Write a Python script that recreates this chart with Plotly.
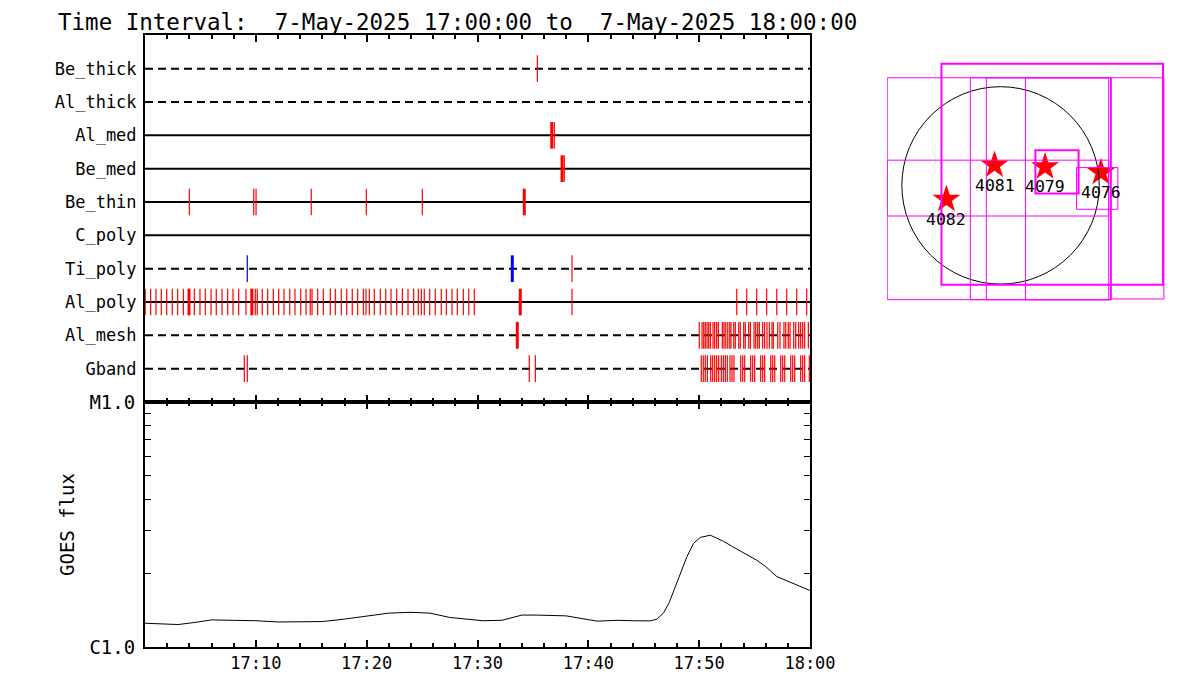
import plotly.graph_objects as go
from datetime import datetime, timedelta

# ---------------- DATA ----------------
T0 = datetime(2025, 5, 7, 17, 0, 0)
TITLE = "Time Interval:  7-May-2025 17:00:00 to  7-May-2025 18:00:00"

DETECTORS = ["Be_thick", "Al_thick", "Al_med", "Be_med", "Be_thin",
             "C_poly", "Ti_poly", "Al_poly", "Al_mesh", "Gband"]

# event times, minutes after 17:00
BE_THICK_EV = [35.40]
AL_THICK_EV = []
AL_MED_EV = [36.93]
AL_MED_EV_BIG = [36.70]
BE_MED_EV = [37.83]
BE_MED_EV_BIG = [37.63]
BE_THIN_EV = [4.00, 9.81, 10.02, 15.00, 19.97, 25.02]
BE_THIN_EV_BIG = [34.22]
C_POLY_EV = []
TI_POLY_EV = [38.53]
TI_POLY_EV_BLUE = [9.23]
TI_POLY_EV_BLUE_BIG = [33.14]
AL_POLY_EV = [0.02, 0.51, 0.99, 1.47, 1.96, 2.46, 2.95, 3.46, 4.45, 4.96, 5.44,
              5.96, 6.43, 6.95, 7.46, 7.94, 8.45, 9.11, 9.95, 10.13, 10.58,
              11.07, 11.58, 12.06, 12.54, 13.06, 13.53, 14.05, 14.53, 14.91,
              15.07, 15.58, 16.09, 16.72, 17.17, 17.71, 18.20, 18.70, 19.19,
              19.70, 19.94, 20.24, 20.69, 21.23, 21.72, 22.20, 22.71, 23.22,
              23.73, 24.24, 24.66, 24.93, 25.20, 25.69, 26.19, 26.73, 27.19,
              27.70, 28.18, 28.72, 29.21, 29.71, 38.53, 53.39, 54.29, 55.19,
              56.09, 57.00, 57.90, 58.80, 59.70]
AL_POLY_EV_BIG = [3.97, 9.64, 33.86]
AL_MESH_EV = [50.01, 50.26, 50.41, 50.55, 50.71, 50.86, 51.01, 51.25, 51.40,
              51.58, 51.73, 52.09, 52.24, 52.40, 52.58, 52.76, 52.87, 53.12,
              53.26, 53.57, 53.71, 54.02, 54.16, 54.47, 54.62, 54.95, 55.10,
              55.28, 55.43, 55.73, 55.91, 56.12, 56.33, 56.57, 56.69, 57.09,
              57.29, 57.65, 57.81, 58.04, 58.20, 58.53, 58.71, 58.98, 59.16,
              59.34, 59.52, 59.85]
AL_MESH_EV_BIG = [33.59]
GBAND_EV = [8.96, 9.23, 34.67, 35.22, 50.19, 50.37, 50.55, 50.74, 51.04, 51.22,
            51.40, 51.58, 51.76, 52.00, 52.18, 52.36, 52.54, 52.78, 52.96,
            53.14, 53.75, 53.93, 54.11, 54.65, 54.83, 55.01, 55.55, 55.73,
            55.91, 56.46, 56.64, 56.82, 57.36, 57.54, 57.72, 58.26, 58.44,
            58.62, 59.16, 59.34, 59.52, 59.94]

# GOES flux (W/m^2), minutes after 17:00
GOES_MIN = [0, 1.5, 3, 4.5, 6, 8, 10, 12, 14, 16, 18, 20, 22, 24, 25.7, 27.5,
            29, 30.5, 32.2, 33.2, 34, 35.3, 38, 40.8, 42.6, 44, 45.6, 46.2,
            46.8, 47.3, 48, 48.9, 49.5, 50.1, 51, 52.2, 53, 54, 55.2, 56, 57,
            58.2, 60]
GOES_FLUX = [1.25e-6, 1.24e-6, 1.235e-6, 1.26e-6, 1.29e-6, 1.285e-6, 1.28e-6,
             1.265e-6, 1.265e-6, 1.27e-6, 1.30e-6, 1.34e-6, 1.375e-6, 1.385e-6,
             1.375e-6, 1.32e-6, 1.30e-6, 1.28e-6, 1.285e-6, 1.32e-6, 1.35e-6,
             1.35e-6, 1.34e-6, 1.275e-6, 1.285e-6, 1.28e-6, 1.278e-6, 1.30e-6,
             1.38e-6, 1.52e-6, 1.85e-6, 2.34e-6, 2.65e-6, 2.80e-6, 2.86e-6,
             2.70e-6, 2.57e-6, 2.43e-6, 2.26e-6, 2.13e-6, 1.94e-6, 1.84e-6,
             1.70e-6]
GOES_TICKVALS = [1e-6, 1e-5]
GOES_TICKTEXT = ["C1.0", "M1.0"]
GOES_MINOR = [2e-6, 3e-6, 4e-6, 5e-6, 6e-6, 7e-6, 8e-6, 9e-6]
TIME_TICKS_MIN = [0, 10, 20, 30, 40, 50, 60]
TIME_TICKTEXT = ["", "17:10", "17:20", "17:30", "17:40", "17:50", "18:00"]

# solar map (arcsec)
SUN_RADIUS = 951
AR_NUMBERS = ["4082", "4081", "4079", "4076"]
AR_X = [-521, -58, 429, 967]
AR_Y = [-134, 195, 179, 125]
FOV_THIN = [[-1092, 1042, -1101, 1037],
            [-291, 1063, -1101, 1037],
            [-137, 1063, -1101, 1037],
            [240, 1063, -1101, 1037],
            [-1092, 1042, -295, 243],
            [1063, 1574, -1094, 1037],
            [732, 1130, -230, 173]]
FOV_THICK = [[-569, 1565, -958, 1171],
             [336, 752, -77, 339]]

# ---------------- HELPERS ----------------
W, H = 1200, 700
OFF = 8  # page body margin offset
FONT = "DejaVu Sans Mono"


def tt(m):
    return (T0 + timedelta(minutes=m)).strftime("%Y-%m-%d %H:%M:%S.%f")


def px(x):
    return (x - OFF) / W


def py(y):
    return 1 - (y - OFF) / H


fig = go.Figure()

DASHED = {"Be_thick", "Al_thick", "Ti_poly", "Al_mesh", "Gband"}
row_y = {d: len(DETECTORS) - i for i, d in enumerate(DETECTORS)}

# row baselines
for d in DETECTORS:
    fig.add_trace(go.Scatter(
        x=[tt(0), tt(60)], y=[row_y[d], row_y[d]], mode="lines",
        line=dict(color="black", width=2,
                  dash="8px,5px" if d in DASHED else "solid"),
        xaxis="x", yaxis="y", hoverinfo="skip", showlegend=False))

events = [
    ("Be_thick", BE_THICK_EV, "red", 1.2), ("Al_thick", AL_THICK_EV, "red", 1.2),
    ("Al_med", AL_MED_EV, "red", 1.2), ("Al_med", AL_MED_EV_BIG, "red", 3),
    ("Be_med", BE_MED_EV, "red", 1.2), ("Be_med", BE_MED_EV_BIG, "red", 3),
    ("Be_thin", BE_THIN_EV, "red", 1.2), ("Be_thin", BE_THIN_EV_BIG, "red", 3),
    ("C_poly", C_POLY_EV, "red", 1.2),
    ("Ti_poly", TI_POLY_EV, "red", 1.2), ("Ti_poly", TI_POLY_EV_BLUE, "blue", 1.2),
    ("Ti_poly", TI_POLY_EV_BLUE_BIG, "blue", 3),
    ("Al_poly", AL_POLY_EV, "red", 1.2), ("Al_poly", AL_POLY_EV_BIG, "red", 3),
    ("Al_mesh", AL_MESH_EV, "red", 1.2), ("Al_mesh", AL_MESH_EV_BIG, "red", 3),
    ("Gband", GBAND_EV, "red", 1.2),
]
HALF = 0.4
for det, times, col, wid in events:
    if not times:
        continue
    xs, ys = [], []
    for m in times:
        xs += [tt(m), tt(m), None]
        ys += [row_y[det] - HALF, row_y[det] + HALF, None]
    fig.add_trace(go.Scatter(x=xs, y=ys, mode="lines",
                             line=dict(color=col, width=wid),
                             xaxis="x", yaxis="y", hoverinfo="skip",
                             showlegend=False))

# GOES curve
fig.add_trace(go.Scatter(x=[tt(m) for m in GOES_MIN], y=GOES_FLUX,
                         mode="lines", line=dict(color="black", width=1),
                         xaxis="x2", yaxis="y2", hoverinfo="skip",
                         showlegend=False))

# solar map stars
fig.add_trace(go.Scatter(x=AR_X, y=AR_Y, mode="markers",
                         marker=dict(symbol="star", size=21, color="red",
                                     line=dict(width=0)),
                         xaxis="x3", yaxis="y3", hoverinfo="skip",
                         showlegend=False))

shapes = []
shapes.append(dict(type="circle", xref="x3", yref="y3",
                   x0=-SUN_RADIUS, x1=SUN_RADIUS, y0=-SUN_RADIUS, y1=SUN_RADIUS,
                   line=dict(color="black", width=1)))
for r in FOV_THIN:
    shapes.append(dict(type="rect", xref="x3", yref="y3", x0=r[0], x1=r[1],
                       y0=r[2], y1=r[3], line=dict(color="#ff00ff", width=1)))
for r in FOV_THICK:
    shapes.append(dict(type="rect", xref="x3", yref="y3", x0=r[0], x1=r[1],
                       y0=r[2], y1=r[3], line=dict(color="#ff00ff", width=2)))

annotations = [dict(text=TITLE.replace(" ", "\u00a0"), xref="paper",
                    yref="paper", x=px(57), y=1.0, xanchor="left",
                    yanchor="top", showarrow=False, borderpad=0,
                    font=dict(family=FONT, size=22.5, color="black"))]
for n, x, y in zip(AR_NUMBERS, AR_X, AR_Y):
    annotations.append(dict(text=n, x=x, y=y, xref="x3", yref="y3",
                            yshift=-20, showarrow=False,
                            font=dict(family=FONT, size=16.5, color="black")))

X_RANGE = [tt(0), tt(60)]
xcommon = dict(range=X_RANGE, type="date", showgrid=False, zeroline=False,
               showline=True, linewidth=2, linecolor="black",
               mirror="allticks", ticks="inside", ticklen=7, tickwidth=2,
               tickcolor="black", tickmode="array", automargin=False,
               tickvals=[tt(m) for m in TIME_TICKS_MIN],
               minor=dict(tickmode="linear", tick0=tt(0), dtick=120000,
                          ticks="inside", ticklen=4, tickwidth=2,
                          tickcolor="black"),
               domain=[px(145), px(810)])

fig.update_layout(
    width=W, height=H, margin=dict(l=0, r=0, t=0, b=0, pad=0, autoexpand=False),
    paper_bgcolor="white", plot_bgcolor="white", showlegend=False,
    hovermode=False,
    xaxis=dict(**xcommon, anchor="y", showticklabels=False),
    yaxis=dict(domain=[py(402), py(35)], range=[0, 11.01], showgrid=False,
               zeroline=False, showline=True, linewidth=2, linecolor="black",
               mirror=True, ticks="", tickmode="array", automargin=False,
               tickvals=[row_y[d] for d in DETECTORS], ticktext=DETECTORS,
               ticklabelstandoff=3,
               tickfont=dict(family=FONT, size=17, color="black"),
               anchor="x"),
    xaxis2=dict(**xcommon, anchor="y2", ticktext=TIME_TICKTEXT,
                tickfont=dict(family=FONT, size=17, color="black")),
    yaxis2=dict(domain=[py(647), py(402)], type="log", range=[-6, -5],
                showgrid=False, zeroline=False, showline=True, linewidth=2,
                linecolor="black", mirror="allticks", ticks="inside",
                ticklen=6, tickwidth=1, tickcolor="black", tickmode="array",
                tickvals=GOES_TICKVALS, ticktext=GOES_TICKTEXT,
                automargin=False, ticklabelstandoff=4,
                tickfont=dict(family=FONT, size=19, color="black"),
                minor=dict(tickmode="array", tickvals=GOES_MINOR,
                           ticks="inside", ticklen=6, tickwidth=1,
                           tickcolor="black"),
                title=dict(text="GOES flux", standoff=10,
                           font=dict(family=FONT, size=19, color="black")),
                anchor="x2"),
    xaxis3=dict(domain=[px(887), px(1166)], range=[-1094, 1594],
                visible=False, anchor="y3", automargin=False),
    yaxis3=dict(domain=[py(303), py(60)], range=[-1133, 1208],
                visible=False, anchor="x3", automargin=False),
    shapes=shapes, annotations=annotations,
)

fig.write_html("out.html")
